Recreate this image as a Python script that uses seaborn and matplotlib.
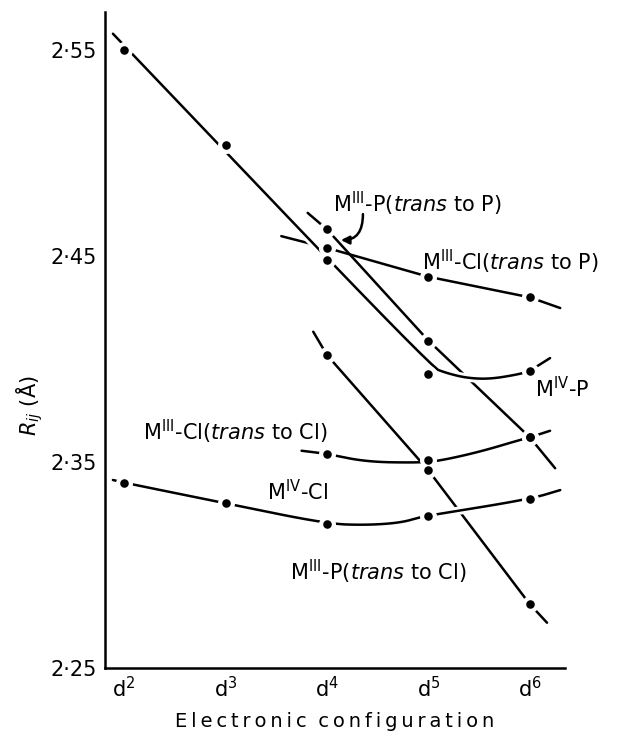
import matplotlib
matplotlib.use("Agg")
import matplotlib.pyplot as plt
import matplotlib.patheffects as pe
import seaborn as sns

# x axis: d-electron configuration
config_x = [2, 3, 4, 5, 6]
config_labels = [r"d$^{2}$", r"d$^{3}$", r"d$^{4}$", r"d$^{5}$", r"d$^{6}$"]
y_ticks = [2.25, 2.35, 2.45, 2.55]
y_tick_labels = ["2·25", "2·35", "2·45", "2·55"]

# measured bond lengths Rij (Å) - the dots
miv_p_x = [2, 3, 4, 5, 6]
miv_p_y = [2.550, 2.504, 2.448, 2.393, 2.394]
miv_cl_x = [2, 3, 4, 5, 6]
miv_cl_y = [2.340, 2.330, 2.320, 2.324, 2.332]
miii_p_tp_x = [4, 5, 6]
miii_p_tp_y = [2.463, 2.409, 2.362]
miii_cl_tp_x = [4, 5, 6]
miii_cl_tp_y = [2.454, 2.440, 2.430]
miii_cl_tcl_x = [4, 5, 6]
miii_cl_tcl_y = [2.354, 2.351, 2.362]
miii_p_tcl_x = [4, 5, 6]
miii_p_tcl_y = [2.402, 2.346, 2.281]

# hand-drawn trend lines (incl. short overhangs at the ends)
miv_p_line_x = [1.89, 5.03, 5.18, 5.38, 5.61, 5.90, 6.0, 6.20]
miv_p_line_y = [2.558, 2.396, 2.3932, 2.3908, 2.3903, 2.3927, 2.3943, 2.4005]
miv_cl_line_x = [1.89, 2, 3, 4, 4.39, 4.72, 4.92, 5, 6, 6.30]
miv_cl_line_y = [2.3413, 2.340, 2.330, 2.320, 2.3194, 2.3205, 2.3232, 2.324, 2.332, 2.3364]
miii_p_tp_line_x = [3.81, 4, 5, 6, 6.25]
miii_p_tp_line_y = [2.471, 2.463, 2.409, 2.362, 2.347]
miii_cl_tp_line_x = [3.55, 4, 5, 6, 6.30]
miii_cl_tp_line_y = [2.4597, 2.454, 2.440, 2.430, 2.4248]
miii_cl_tcl_line_x = [3.75, 4, 4.39, 4.89, 5.10, 5.50, 5.90, 6, 6.20]
miii_cl_tcl_line_y = [2.3555, 2.354, 2.3501, 2.3497, 2.3505, 2.3549, 2.3607, 2.362, 2.3652]
miii_p_tcl_line_x = [3.865, 4, 5, 6, 6.17]
miii_p_tcl_line_y = [2.4133, 2.402, 2.346, 2.281, 2.272]

plt.rcParams["mathtext.fontset"] = "dejavusans"
sns.set_style("white")
plt.rcParams["font.family"] = ["DejaVu Sans"]
for key in ["text.color", "axes.labelcolor", "xtick.color", "ytick.color"]:
    plt.rcParams[key] = "black"

fig = plt.figure(figsize=(6.22, 7.37), dpi=100)
ax = fig.add_axes([0.169, 0.0936, 0.739, 0.890])

halo = [pe.withStroke(linewidth=6, foreground="white")]


def rounded(xs, ys, n=3):
    # Chaikin corner cutting, only to draw the pen curve smoothly through the read vertices
    pts = list(zip(xs, ys))
    for _ in range(n):
        new = [pts[0]]
        for (x0, y0), (x1, y1) in zip(pts[:-1], pts[1:]):
            new.append((0.75 * x0 + 0.25 * x1, 0.75 * y0 + 0.25 * y1))
            new.append((0.25 * x0 + 0.75 * x1, 0.25 * y0 + 0.75 * y1))
        new.append(pts[-1])
        pts = new
    return [p[0] for p in pts], [p[1] for p in pts]


def draw_line(lx, ly, curve=False, on_top=False):
    if curve:
        lx, ly = rounded(lx, ly)
    sns.lineplot(x=lx, y=ly, sort=False, estimator=None, color="black", lw=1.8,
                 ax=ax, zorder=3 if on_top else 2,
                 path_effects=halo if on_top else None)


draw_line(miii_p_tp_line_x, miii_p_tp_line_y)
draw_line(miii_cl_tp_line_x, miii_cl_tp_line_y)
draw_line(miii_cl_tcl_line_x, miii_cl_tcl_line_y, curve=True)
draw_line(miii_p_tcl_line_x, miii_p_tcl_line_y)
draw_line(miv_p_line_x, miv_p_line_y, curve=True, on_top=True)
draw_line(miv_cl_line_x, miv_cl_line_y, curve=True, on_top=True)

pts_x = miv_p_x + miv_cl_x + miii_p_tp_x + miii_cl_tp_x + miii_cl_tcl_x + miii_p_tcl_x
pts_y = miv_p_y + miv_cl_y + miii_p_tp_y + miii_cl_tp_y + miii_cl_tcl_y + miii_p_tcl_y
# white ring breaks the lines around each dot, like the original drawing
sns.scatterplot(x=pts_x, y=pts_y, color="white", s=150, linewidth=0, ax=ax, zorder=4)
sns.scatterplot(x=pts_x, y=pts_y, color="black", s=38, linewidth=0, ax=ax, zorder=5)

# series labels
fs = 15
ax.text(4.06, 2.4714, r"M$^{\mathrm{III}}$-P($\mathit{trans}$ to P)", fontsize=fs)
ax.text(4.94, 2.4432, r"M$^{\mathrm{III}}$-Cl($\mathit{trans}$ to P)", fontsize=fs)
ax.text(6.05, 2.3816, r"M$^{\mathrm{IV}}$-P", fontsize=fs)
ax.text(2.19, 2.3607, r"M$^{\mathrm{III}}$-Cl($\mathit{trans}$ to Cl)", fontsize=fs)
ax.text(3.41, 2.3316, r"M$^{\mathrm{IV}}$-Cl", fontsize=fs)
ax.text(3.64, 2.2927, r"M$^{\mathrm{III}}$-P($\mathit{trans}$ to Cl)", fontsize=fs)

ax.annotate("", xy=(4.138, 2.4578), xytext=(4.355, 2.4704),
            arrowprops=dict(arrowstyle="-|>", connectionstyle="angle3,angleA=90,angleB=0",
                            color="black", lw=1.8, mutation_scale=12, shrinkA=0, shrinkB=0))

ax.set_xlim(1.813, 6.345)
ax.set_ylim(2.25, 2.5685)
ax.set_xticks(config_x)
ax.set_xticklabels(config_labels)
ax.set_yticks(y_ticks)
ax.set_yticklabels(y_tick_labels)
ax.tick_params(length=0, labelsize=fs, pad=6)

sns.despine(ax=ax)
for side in ["left", "bottom"]:
    ax.spines[side].set_linewidth(1.8)
    ax.spines[side].set_color("black")

ax.set_xlabel("\u2009".join("Electronic") + "\u2009\u2009\u2009" + "\u2009".join("configuration"),
              fontsize=14)
ax.xaxis.set_label_coords(0.5, -0.067)
ax.set_ylabel(r"$R_{ij}$ (Å)", fontsize=fs)
ax.yaxis.set_label_coords(-0.13, 0.40)

fig.savefig("out.png", dpi=100)
